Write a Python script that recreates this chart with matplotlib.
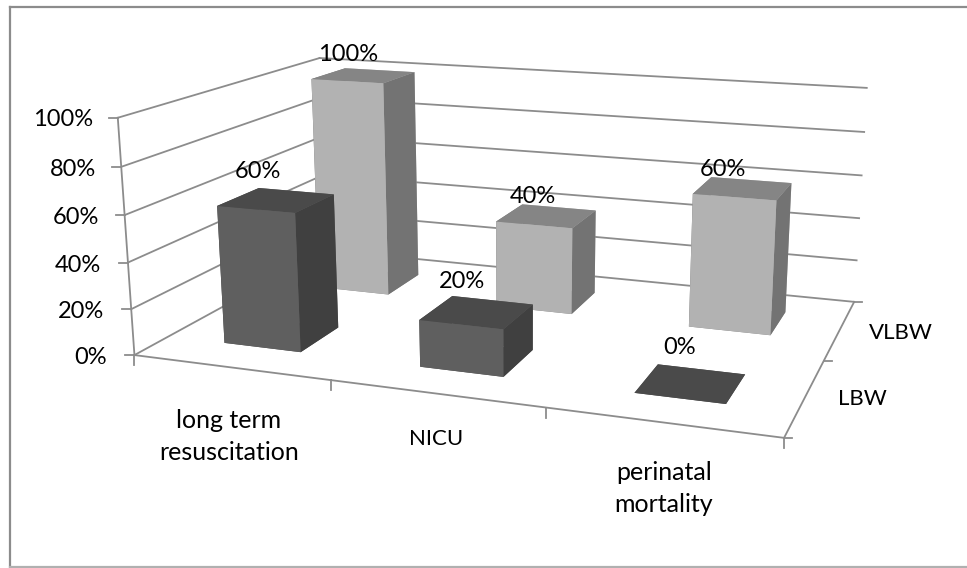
import numpy as np
import matplotlib
matplotlib.use("Agg")
import matplotlib.pyplot as plt
from matplotlib.lines import Line2D
from mpl_toolkits.mplot3d import Axes3D  # noqa: F401

categories = ["long term\nresuscitation", "NICU", "perinatal\nmortality"]
series = ["LBW", "VLBW"]
lbw_values = [0.60, 0.20, 0.00]
vlbw_values = [1.00, 0.40, 0.60]
value_ticks = [0.0, 0.2, 0.4, 0.6, 0.8, 1.0]

W, H = 967, 568
plt.rcParams["font.family"] = ["Lato", "DejaVu Sans"]
GRAY = "#8c8c8c"

# Camera calibration: model point (category, series, value) -> reference pixel
calib = [
    ((0, 0, 0), (133, 355)), ((1, 0, 0), (330, 380)), ((2, 0, 0), (547, 408)),
    ((3, 0, 0), (785, 437)), ((3, 1, 0), (822, 362)), ((3, 2, 0), (854, 302)),
    ((0, 2, 0), (328, 250)), ((0, 0, 1), (119, 118)), ((0, 2, 1), (318, 58)),
    ((3, 2, 1), (867, 88)), ((0, 0, .6), (125, 215)), ((3, 2, .6), (862, 175)),
]
A = []
for (X, Y, Z), (pu, pv) in calib:
    A.append([X, Y, Z, 1, 0, 0, 0, 0, -pu*X, -pu*Y, -pu*Z, -pu])
    A.append([0, 0, 0, 0, X, Y, Z, 1, -pv*X, -pv*Y, -pv*Z, -pv])
P = np.linalg.svd(np.array(A, float))[2][-1].reshape(3, 4)
P = P / P[2, 3]


def project(x, y, z):
    q = P @ np.array([x, y, z, 1.0])
    return q[0] / q[2], q[1] / q[2]


fig = plt.figure(figsize=(W / 100, H / 100), dpi=100, facecolor="white")
ax = fig.add_axes([0, 0, 1, 1], projection="3d")
ax.set_axis_off()
ax.patch.set_visible(False)
ax.computed_zorder = False
ax.apply_aspect = lambda position=None: None


def get_proj():
    # pixels (image, y down) -> display (y up) -> axes 2D data
    flip = np.array([[1, 0, 0], [0, -1, H], [0, 0, 1.0]])
    to_data = ax.transData.inverted().get_matrix()
    p2 = to_data @ flip @ P
    depth = np.array([-0.1, 1.0, -0.3, 0.0])
    return np.array([p2[0], p2[1], depth, p2[2]])


ax.get_proj = get_proj


def px_line(x0, y0, x1, y1, lw=1.3, color=GRAY, zorder=-1):
    fig.add_artist(Line2D([x0, x1], [H - y0, H - y1], color=color, lw=lw,
                          transform=None, zorder=zorder))


def seg(a, b):
    px_line(*project(*a), *project(*b))


# Wall gridlines and axes
n, m = len(categories), len(series)
for val in value_ticks:
    seg((0, 0, val), (0, m, val))
    seg((0, m, val), (n, m, val))
seg((0, 0, 0), (0, 0, 1))
seg((0, 0, 0), (n, 0, 0))
seg((n, 0, 0), (n, m, 0))


def tick(pt, dx, dy):
    u, v = project(*pt)
    px_line(u, v, u + dx, v + dy)


for val in value_ticks:
    tick((0, 0, val), -9, 0)
for i in range(n + 1):
    tick((i, 0, 0), 0, 10)
for j in range(m + 1):
    tick((n, j, 0), 8, 0)

# Bars
GAP = 0.3
xs, ys, hs, cols = [], [], [], []
DARK = ["#4a4a4a", "#4a4a4a", "#5f5f5f", "#5f5f5f", "#404040", "#404040"]
LIGHT = ["#858585", "#858585", "#b2b2b2", "#b2b2b2", "#737373", "#737373"]
for j, (vals, c) in enumerate([(lbw_values, DARK), (vlbw_values, LIGHT)]):
    for i, val in enumerate(vals):
        xs.append(i + GAP)
        ys.append(j + GAP)
        hs.append(val)
        cols += c
ax.bar3d(xs, ys, np.zeros(len(xs)), 1 - 2 * GAP, 1 - 2 * GAP, hs, color=cols,
         shade=False, linewidth=0, zorder=2)


def px_text(x, y, s, ha="center", fs=17):
    fig.text(x / W, 1 - y / H, s, ha=ha, va="center", fontsize=fs, color="black",
             zorder=5)


# Data labels, offset from the centre of each bar top
offsets = {0: [(-18, -29), (-15, -31), (-11, -36)],
           1: [(-16, -21), (-14, -19), (-20, -19)]}
for j, vals in enumerate([lbw_values, vlbw_values]):
    for i, val in enumerate(vals):
        u, v = project(i + 0.5, j + 0.5, val)
        dx, dy = offsets[j][i]
        px_text(u + dx, v + dy, f"{val:.0%}")

# Value axis labels
for val, (xr, yc) in zip(value_ticks, [(107, 358), (104, 312), (101, 266), (99, 218), (96, 169), (93, 120)]):
    px_text(xr, yc, f"{val:.0%}", ha="right")

# Category labels
for s, cx, ys_, fs in zip(categories, [229, 436, 664], [(420, 452), (439,), (472, 505)], [18, 16, 18]):
    for line, yc in zip(s.split("\n"), ys_):
        px_text(cx, yc, line, fs=fs)

# Series labels
px_text(862, 399, series[0], fs=16)
px_text(901, 333, series[1], fs=16)

# Chart frame (open on the right, where the picture is cropped)
px_line(10, 7, W, 7, lw=1.6, zorder=1)
px_line(10, 7, 10, 567, lw=1.6, zorder=1)
px_line(10, 567, W, 567, lw=1.6, color="#b0b0b0", zorder=1)

fig.savefig("out.png", dpi=100)
